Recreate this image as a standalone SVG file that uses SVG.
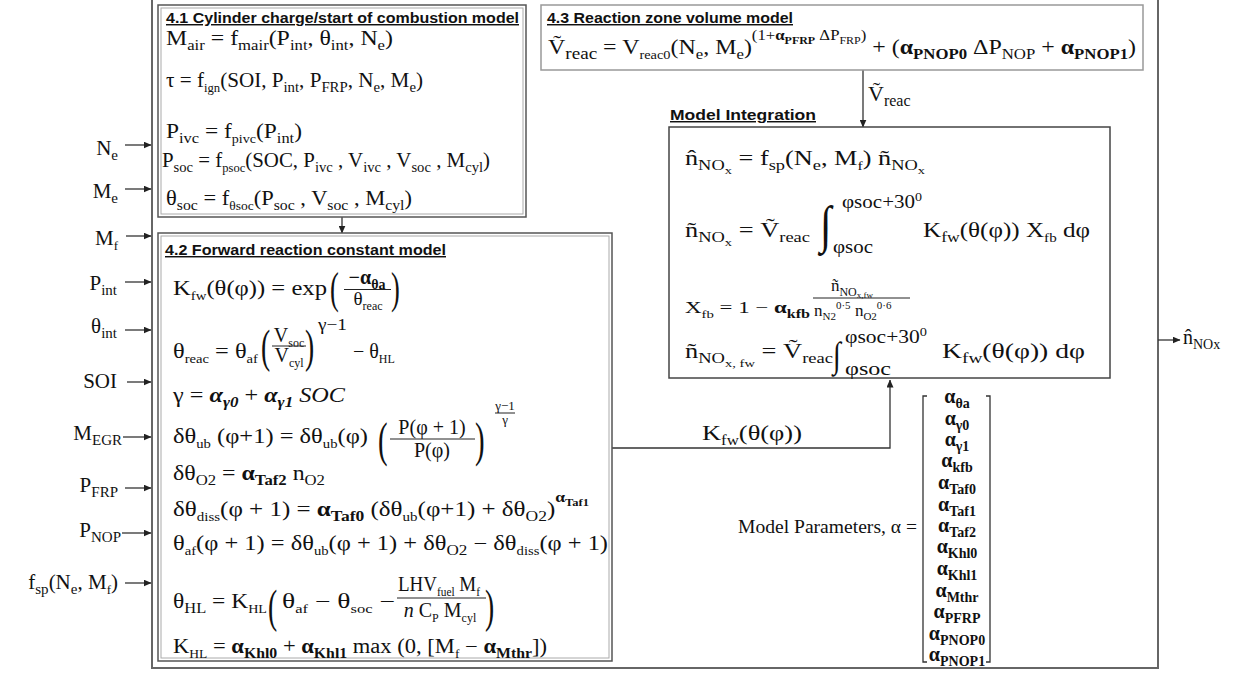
<svg xmlns="http://www.w3.org/2000/svg" width="1251" height="674" viewBox="0 0 1251 674">
<style>
.m{font-family:"Liberation Serif","DejaVu Serif",serif;font-size:20px;fill:#111}
.s{font-size:14px;baseline-shift:-5px}
.ss{font-size:12px;baseline-shift:-5px}
.x{font-size:11px;baseline-shift:-9px}
.p{font-size:14px;baseline-shift:14px}
.pp{font-size:10px;baseline-shift:10px}
.bd{font-weight:bold}
.it{font-style:italic}
.lim{font-size:18px}
.t{font-family:"Liberation Sans",Arial,sans-serif;font-weight:bold;font-size:14.5px;text-decoration:underline;fill:#111}
.box{fill:#fff;stroke:#555;stroke-width:1.5}
.inner{fill:none;stroke:#aaa;stroke-width:1}
.ln{fill:none;stroke:#333;stroke-width:1.3}
.bar{stroke:#222;stroke-width:1}
.br{fill:none;stroke:#333;stroke-width:1.3}
</style>
<defs>
<marker id="ah" markerUnits="userSpaceOnUse" markerWidth="8" markerHeight="7" refX="7.5" refY="3.5" orient="auto">
<path d="M0,0 L8,3.5 L0,7 z" fill="#222"/>
</marker>
</defs>
<rect width="1251" height="674" fill="#fff"/>
<g id="frame">
<rect x="152" y="-5" width="1006" height="673" fill="none" stroke="#666" stroke-width="2"/>
</g>
<g id="connectors">
<line class="ln" x1="125" y1="145" x2="151" y2="145" marker-end="url(#ah)"/>
<line class="ln" x1="125" y1="189" x2="151" y2="189" marker-end="url(#ah)"/>
<line class="ln" x1="126" y1="236" x2="151" y2="236" marker-end="url(#ah)"/>
<line class="ln" x1="125" y1="282" x2="151" y2="282" marker-end="url(#ah)"/>
<line class="ln" x1="125" y1="330" x2="151" y2="330" marker-end="url(#ah)"/>
<line class="ln" x1="127" y1="382" x2="151" y2="382" marker-end="url(#ah)"/>
<line class="ln" x1="123" y1="437" x2="151" y2="437" marker-end="url(#ah)"/>
<line class="ln" x1="125" y1="488" x2="151" y2="488" marker-end="url(#ah)"/>
<line class="ln" x1="122" y1="533" x2="151" y2="533" marker-end="url(#ah)"/>
<line class="ln" x1="125" y1="583" x2="151" y2="583" marker-end="url(#ah)"/>
<line class="ln" x1="342" y1="217" x2="342" y2="233" marker-end="url(#ah)"/>
<line class="ln" x1="863" y1="70" x2="863" y2="127" marker-end="url(#ah)"/>
<polyline class="ln" points="612,448 890,448 890,380" marker-end="url(#ah)"/>
<line class="ln" x1="1158" y1="340" x2="1180" y2="340" marker-end="url(#ah)"/>
<text class="m" x="868" y="101" style="font-size:22px">Ṽ<tspan class="s" style="font-size:16px">reac</tspan></text>
<text class="m" x="702" y="440" style="font-size:22px" textLength="100" lengthAdjust="spacingAndGlyphs">K<tspan class="ss" style="font-size:14px">fw</tspan>(θ(φ))</text>
</g>
<g id="in-Ne"><text class="m" x="118" y="155" text-anchor="end" style="font-size:21px">N<tspan class="s" style="font-size:15px">e</tspan></text></g>
<g id="in-Me"><text class="m" x="118" y="198" text-anchor="end" style="font-size:21px">M<tspan class="s" style="font-size:15px">e</tspan></text></g>
<g id="in-Mf"><text class="m" x="118" y="245" text-anchor="end" style="font-size:21px">M<tspan class="ss" style="font-size:13px">f</tspan></text></g>
<g id="in-Pint"><text class="m" x="117" y="290" text-anchor="end" style="font-size:21px">P<tspan class="s" style="font-size:15px">int</tspan></text></g>
<g id="in-Tint"><text class="m" x="117" y="333" text-anchor="end" style="font-size:21px">θ<tspan class="s" style="font-size:15px">int</tspan></text></g>
<g id="in-SOI"><text class="m" x="117" y="388" text-anchor="end" style="font-size:21px">SOI</text></g>
<g id="in-MEGR"><text class="m" x="122" y="440" text-anchor="end" style="font-size:21px">M<tspan class="s" style="font-size:15px">EGR</tspan></text></g>
<g id="in-PFRP"><text class="m" x="118" y="492" text-anchor="end" style="font-size:21px">P<tspan class="s" style="font-size:15px">FRP</tspan></text></g>
<g id="in-PNOP"><text class="m" x="121" y="537" text-anchor="end" style="font-size:21px">P<tspan class="s" style="font-size:15px">NOP</tspan></text></g>
<g id="in-fsp"><text class="m" x="118" y="589" text-anchor="end" style="font-size:21px">f<tspan class="s" style="font-size:15px">sp</tspan>(N<tspan class="s" style="font-size:15px">e</tspan>, M<tspan class="ss" style="font-size:13px">f</tspan>)</text></g>
<g id="out-nNOx"><text class="m" x="1183" y="344">n̂<tspan class="s">NOx</tspan></text></g>
<g id="n41">
<rect class="box" x="158" y="5" width="368" height="212"/>
<rect class="inner" x="161" y="8" width="362" height="206"/>
<text class="t" x="166" y="23" textLength="353" lengthAdjust="spacingAndGlyphs">4.1 Cylinder charge/start of combustion model</text>
<text class="m" x="166" y="45" textLength="227" lengthAdjust="spacingAndGlyphs">M<tspan class="s">air</tspan> = f<tspan class="s">mair</tspan>(P<tspan class="s">int</tspan>, θ<tspan class="s">int</tspan>, N<tspan class="s">e</tspan>)</text>
<text class="m" x="166" y="87" textLength="257" lengthAdjust="spacingAndGlyphs">τ = f<tspan class="ss">ign</tspan>(SOI, P<tspan class="s">int</tspan>, P<tspan class="s">FRP</tspan>, N<tspan class="s">e</tspan>, M<tspan class="s">e</tspan>)</text>
<text class="m" x="166" y="138" textLength="136" lengthAdjust="spacingAndGlyphs">P<tspan class="s">ivc</tspan> = f<tspan class="ss">pivc</tspan>(P<tspan class="s">int</tspan>)</text>
<text class="m" x="162" y="167" textLength="328" lengthAdjust="spacingAndGlyphs">P<tspan class="s">soc</tspan> = f<tspan class="ss">psoc</tspan>(SOC, P<tspan class="s">ivc</tspan> , V<tspan class="s">ivc</tspan> , V<tspan class="s">soc</tspan> , M<tspan class="s">cyl</tspan>)</text>
<text class="m" x="166" y="205" textLength="246" lengthAdjust="spacingAndGlyphs">θ<tspan class="s">soc</tspan> = f<tspan class="ss">θsoc</tspan>(P<tspan class="s">soc</tspan> , V<tspan class="s">soc</tspan> , M<tspan class="s">cyl</tspan>)</text>
</g>
<g id="n42">
<rect class="box" x="158" y="233" width="454" height="428"/>
<rect class="inner" x="161" y="236" width="448" height="422"/>
<text class="t" x="165" y="255" textLength="281" lengthAdjust="spacingAndGlyphs">4.2 Forward reaction constant model</text>
<text class="m" x="173" y="295" textLength="154" lengthAdjust="spacingAndGlyphs">K<tspan class="ss">fw</tspan>(θ(φ)) = exp</text>
<text class="m" style="font-size:44px" transform="translate(330,303) scale(0.6,1)">(</text>
<text class="m" x="367" y="284" text-anchor="middle"><tspan class="bd">−α</tspan><tspan class="s bd">θa</tspan></text>
<line class="bar" x1="344" y1="289.5" x2="391" y2="289.5"/>
<text class="m" x="368" y="305" text-anchor="middle" style="font-size:19px">θ<tspan class="ss">reac</tspan></text>
<text class="m" style="font-size:44px" transform="translate(391,303) scale(0.6,1)">)</text>
<text class="m" x="173" y="358" textLength="85" lengthAdjust="spacingAndGlyphs">θ<tspan class="ss">reac</tspan> = θ<tspan class="ss">af</tspan></text>
<text class="m" style="font-size:46px" transform="translate(261,362) scale(0.6,1)">(</text>
<text class="m" x="289" y="342" text-anchor="middle">V<tspan class="ss">soc</tspan></text>
<line class="bar" x1="272" y1="346" x2="306" y2="346"/>
<text class="m" x="289" y="362" text-anchor="middle">V<tspan class="ss">cyl</tspan></text>
<text class="m" style="font-size:46px" transform="translate(305,362) scale(0.6,1)">)</text>
<text class="m" x="318" y="330" style="font-size:16px" textLength="29" lengthAdjust="spacingAndGlyphs">γ−1</text>
<text class="m" x="353" y="358">− θ<tspan class="ss">HL</tspan></text>
<text class="m" x="173" y="402" textLength="172" lengthAdjust="spacingAndGlyphs">γ = <tspan class="bd it">α</tspan><tspan class="s bd it">γ0</tspan> + <tspan class="bd it">α</tspan><tspan class="s bd it">γ1</tspan> <tspan class="it">SOC</tspan></text>
<text class="m" x="173" y="443" textLength="195" lengthAdjust="spacingAndGlyphs">δθ<tspan class="ss">ub</tspan> (φ+1) = δθ<tspan class="ss">ub</tspan>(φ)</text>
<text class="m" style="font-size:48px" transform="translate(378,456) scale(0.6,1)">(</text>
<text class="m" x="432" y="434" text-anchor="middle">P(φ + 1)</text>
<line class="bar" x1="390" y1="439" x2="475" y2="439"/>
<text class="m" x="432" y="457" text-anchor="middle">P(φ)</text>
<text class="m" style="font-size:48px" transform="translate(475,456) scale(0.6,1)">)</text>
<text class="m" x="505" y="410" text-anchor="middle" style="font-size:13px">γ−1</text>
<line class="bar" x1="495" y1="413" x2="515" y2="413"/>
<text class="m" x="505" y="424" text-anchor="middle" style="font-size:13px">γ</text>
<text class="m" x="173" y="480" textLength="152" lengthAdjust="spacingAndGlyphs">δθ<tspan class="s">O2</tspan>  = <tspan class="bd">α</tspan><tspan class="s bd">Taf2</tspan> n<tspan class="s">O2</tspan></text>
<text class="m" x="173" y="516" textLength="416" lengthAdjust="spacingAndGlyphs">δθ<tspan class="ss">diss</tspan>(φ + 1)  = <tspan class="bd">α</tspan><tspan class="s bd">Taf0</tspan> (δθ<tspan class="ss">ub</tspan>(φ+1) + δθ<tspan class="s">O2</tspan>)<tspan class="p bd">α</tspan><tspan class="pp bd">Taf1</tspan></text>
<text class="m" x="173" y="550" textLength="435" lengthAdjust="spacingAndGlyphs">θ<tspan class="ss">af</tspan>(φ + 1) = δθ<tspan class="ss">ub</tspan>(φ + 1) + δθ<tspan class="s">O2</tspan> − δθ<tspan class="ss">diss</tspan>(φ + 1)</text>
<text class="m" x="173" y="608" textLength="94" lengthAdjust="spacingAndGlyphs">θ<tspan class="s">HL</tspan> = K<tspan class="ss">HL</tspan></text>
<text class="m" style="font-size:46px" transform="translate(268,622) scale(0.6,1)">(</text>
<text class="m" x="282" y="608" textLength="113" lengthAdjust="spacingAndGlyphs">θ<tspan class="ss">af</tspan> − θ<tspan class="ss">soc</tspan> −</text>
<text class="m" x="398" y="591" textLength="82" lengthAdjust="spacingAndGlyphs">LHV<tspan class="ss">fuel</tspan> M<tspan class="ss">f</tspan></text>
<line class="bar" x1="397" y1="598" x2="486" y2="598"/>
<text class="m" x="440" y="617" text-anchor="middle"><tspan class="it">n</tspan> C<tspan class="ss">P</tspan> M<tspan class="ss">cyl</tspan></text>
<text class="m" style="font-size:46px" transform="translate(485,622) scale(0.6,1)">)</text>
<text class="m" x="173" y="653" textLength="374" lengthAdjust="spacingAndGlyphs">K<tspan class="ss">HL</tspan> = <tspan class="bd">α</tspan><tspan class="s bd">Khl0</tspan> + <tspan class="bd">α</tspan><tspan class="s bd">Khl1</tspan> max (0, [M<tspan class="ss">f</tspan> − <tspan class="bd">α</tspan><tspan class="s bd">Mthr</tspan>])</text>
</g>
<g id="n43">
<rect x="541" y="5" width="602" height="65" fill="#fff" stroke="#999" stroke-width="1.5"/>
<text class="t" x="547" y="23" textLength="246" lengthAdjust="spacingAndGlyphs">4.3 Reaction zone volume model</text>
<text class="m" x="548" y="54" textLength="588" lengthAdjust="spacingAndGlyphs">Ṽ<tspan class="s" style="font-size:16px">reac</tspan> = V<tspan class="ss">reac0</tspan>(N<tspan class="s">e</tspan>, M<tspan class="s">e</tspan>)<tspan class="p">(1+</tspan><tspan class="p bd">α</tspan><tspan class="pp bd">PFRP</tspan><tspan class="p"> ΔP</tspan><tspan class="pp">FRP</tspan><tspan class="p">)</tspan> + (<tspan class="bd">α</tspan><tspan class="s bd">PNOP0</tspan> ΔP<tspan class="s">NOP</tspan> + <tspan class="bd">α</tspan><tspan class="s bd">PNOP1</tspan>)</text>
</g>
<g id="nMI">
<text class="t" x="670" y="120" textLength="146" lengthAdjust="spacingAndGlyphs">Model Integration</text>
<rect x="669" y="127" width="441" height="251" fill="#fff" stroke="#444" stroke-width="1.5"/>
<text class="m" x="685" y="165" textLength="240" lengthAdjust="spacingAndGlyphs">n̂<tspan class="s">NO</tspan><tspan class="x">x</tspan> = f<tspan class="s">sp</tspan>(N<tspan class="s">e</tspan>, M<tspan class="ss">f</tspan>) ñ<tspan class="s">NO</tspan><tspan class="x">x</tspan></text>
<text class="m" x="685" y="237" textLength="125" lengthAdjust="spacingAndGlyphs">ñ<tspan class="s">NO</tspan><tspan class="x">x</tspan> = Ṽ<tspan class="s">reac</tspan></text>
<text class="m" style="font-size:52px" transform="translate(820,242) scale(0.8,1)">∫</text>
<text class="m lim" x="842" y="208" textLength="80" lengthAdjust="spacingAndGlyphs">φsoc+30<tspan style="font-size:12px;baseline-shift:7px">0</tspan></text>
<text class="m lim" x="833" y="253" textLength="40" lengthAdjust="spacingAndGlyphs">φsoc</text>
<text class="m" x="923" y="237" textLength="167" lengthAdjust="spacingAndGlyphs">K<tspan class="s">fw</tspan>(θ(φ)) X<tspan class="ss">fb</tspan> dφ</text>
<text class="m" x="685" y="313" style="font-size:17px" textLength="125" lengthAdjust="spacingAndGlyphs">X<tspan class="ss" style="font-size:11px">fb</tspan> = 1 − <tspan class="bd">α</tspan><tspan class="s bd" style="font-size:12px">kfb</tspan></text>
<text class="m" x="852" y="291" style="font-size:17px" text-anchor="middle">ñ<tspan class="ss" style="font-size:12px">NO</tspan><tspan style="font-size:9px;baseline-shift:-7px">x,fw</tspan></text>
<line class="bar" x1="813" y1="298" x2="910" y2="298"/>
<text class="m" x="814" y="316" style="font-size:17px">n<tspan style="font-size:11px;baseline-shift:-4px">N2</tspan><tspan style="font-size:11px;baseline-shift:7px">0·5</tspan> n<tspan style="font-size:11px;baseline-shift:-4px">O2</tspan><tspan style="font-size:11px;baseline-shift:7px">0·6</tspan></text>
<text class="m" x="685" y="358" textLength="148" lengthAdjust="spacingAndGlyphs">ñ<tspan class="s">NO</tspan><tspan class="x">x, fw</tspan> = Ṽ<tspan class="s">reac</tspan></text>
<text class="m" style="font-size:36px" transform="translate(833,367) scale(0.8,1)">∫</text>
<text class="m lim" x="845" y="343" textLength="82" lengthAdjust="spacingAndGlyphs">φsoc+30<tspan style="font-size:12px;baseline-shift:7px">0</tspan></text>
<text class="m lim" x="845" y="375" textLength="46" lengthAdjust="spacingAndGlyphs">φsoc</text>
<text class="m" x="942" y="358" textLength="143" lengthAdjust="spacingAndGlyphs">K<tspan class="s">fw</tspan>(θ(φ)) dφ</text>
</g>
<g id="nParams">
<text class="m" x="738" y="533" style="font-size:18px" textLength="179" lengthAdjust="spacingAndGlyphs">Model Parameters, α =</text>
<path class="br" d="M927,396 H923 V662 H927"/>
<path class="br" d="M986,396 H990 V662 H986"/>
<g class="m bd" text-anchor="middle">
<text x="957" y="403">α<tspan class="s">θa</tspan></text>
<text x="957" y="425">α<tspan class="s">γ0</tspan></text>
<text x="957" y="446">α<tspan class="s">γ1</tspan></text>
<text x="957" y="467">α<tspan class="s">kfb</tspan></text>
<text x="957" y="489">α<tspan class="s">Taf0</tspan></text>
<text x="957" y="511">α<tspan class="s">Taf1</tspan></text>
<text x="957" y="532">α<tspan class="s">Taf2</tspan></text>
<text x="957" y="553">α<tspan class="s">Khl0</tspan></text>
<text x="957" y="575">α<tspan class="s">Khl1</tspan></text>
<text x="957" y="597">α<tspan class="s">Mthr</tspan></text>
<text x="957" y="618">α<tspan class="s">PFRP</tspan></text>
<text x="957" y="640">α<tspan class="s">PNOP0</tspan></text>
<text x="957" y="661">α<tspan class="s">PNOP1</tspan></text>
</g>
</g>
</svg>
